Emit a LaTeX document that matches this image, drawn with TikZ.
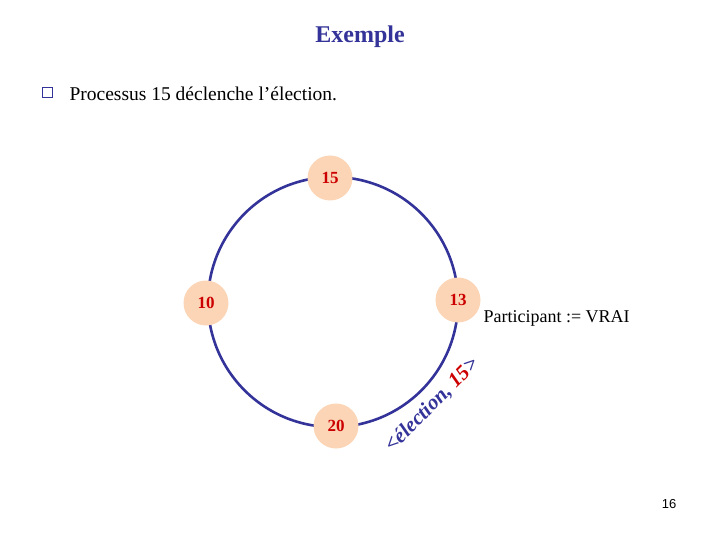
\documentclass[tikz,border=0pt]{standalone}
\usepackage{fontspec}
\setmainfont{Liberation Serif}
\newfontfamily\sansf{Liberation Sans}
\definecolor{dblue}{HTML}{333399}
\definecolor{peach}{HTML}{FBD5B5}
\definecolor{dred}{HTML}{CC0000}
\begin{document}
\begin{tikzpicture}[x=1pt,y=-1pt,
  proc/.style={circle,fill=peach,minimum size=45pt,inner sep=0pt,text=dred,font=\fontsize{17}{17}\selectfont\bfseries}]
\useasboundingbox (0,0) rectangle (720,540);
\node[text=dblue,font=\fontsize{24}{24}\selectfont\bfseries] (title) at (360,37) {Exemple};
\node[draw=dblue,fill=white,minimum size=10pt,inner sep=0pt,line width=1pt] (bul) at (47,93) {};
\node[anchor=west,font=\fontsize{19.5}{19.5}\selectfont] (l1) at (66,94) {Processus 15 déclenche l’élection.};
\draw[dblue,line width=2.6pt] (333,302) circle (125);
\node[proc] (p15) at (330,178) {15};
\node[proc] (p13) at (458,300) {13};
\node[proc] (p10) at (206,303) {10};
\node[proc] (p20) at (336,426) {20};
\node[anchor=west,font=\fontsize{18}{18}\selectfont] (part) at (480,318) {Participant := VRAI};
\node[rotate=45,font=\fontsize{21}{21}\selectfont\bfseries\itshape,text=dblue] (msg) at (432,405) {<élection, \textcolor{dred}{15}>};
\node[font=\sansf\fontsize{13}{13}\selectfont] (pg) at (669,504) {16};
\end{tikzpicture}
\end{document}
